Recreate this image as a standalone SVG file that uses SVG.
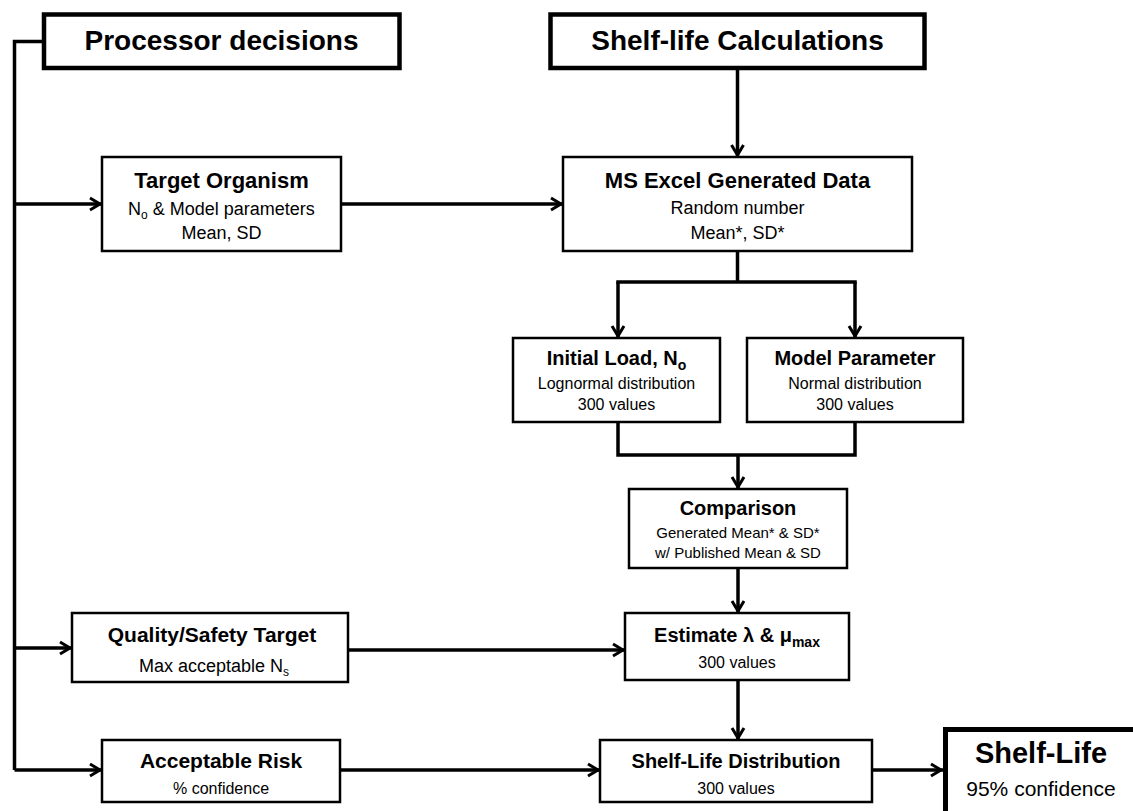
<svg xmlns="http://www.w3.org/2000/svg" width="1133" height="811" viewBox="0 0 1133 811">
<defs>
<style>
text{font-family:"Liberation Sans",Arial,sans-serif;fill:#000;text-anchor:middle}
.h{font-size:28px;font-weight:bold}
.t{font-size:22px;font-weight:bold}
.tm{font-size:20px;font-weight:bold}
.s{font-size:18px}
.sm{font-size:16px}
.box{fill:#fff;stroke:#000;stroke-width:2.5}
.hbox{fill:#fff;stroke:#000;stroke-width:4.5}
.c{fill:none;stroke:#000;stroke-width:3.5}
.a{fill:none;stroke:#000;stroke-width:3.5;marker-end:url(#arr)}
</style>
<marker id="arr" viewBox="0 0 16 16" markerWidth="16" markerHeight="16" refX="14" refY="8" orient="auto" markerUnits="userSpaceOnUse" overflow="visible">
<path d="M2,2 L12,8 L2,14" fill="none" stroke="#000" stroke-width="3"/>
</marker>
</defs>

<g id="connectors">
<polyline class="c" points="43,41.5 14.5,41.5 14.5,770"/>
<line class="a" x1="14.5" y1="204" x2="102" y2="204"/>
<line class="a" x1="14.5" y1="648" x2="72" y2="648"/>
<line class="a" x1="14.5" y1="770" x2="102" y2="770"/>
<line class="a" x1="737.5" y1="68" x2="737.5" y2="157"/>
<line class="a" x1="341" y1="204" x2="563" y2="204"/>
<line class="c" x1="737.5" y1="251" x2="737.5" y2="282"/>
<line class="c" x1="616.25" y1="282" x2="856.75" y2="282"/>
<line class="a" x1="618" y1="282" x2="618" y2="338"/>
<line class="a" x1="855" y1="282" x2="855" y2="338"/>
<polyline class="c" points="618,422 618,455 855,455 855,422"/>
<line class="a" x1="738" y1="455" x2="738" y2="489"/>
<line class="a" x1="738" y1="568" x2="738" y2="613"/>
<line class="a" x1="348" y1="650" x2="625" y2="650"/>
<line class="a" x1="738" y1="680" x2="738" y2="740"/>
<line class="a" x1="340" y1="770" x2="600" y2="770"/>
<line class="a" x1="872" y1="770" x2="943" y2="770"/>
</g>

<g id="processor-decisions">
<rect class="hbox" x="44" y="14.5" width="355.5" height="53.5"/>
<text class="h" x="221.5" y="50">Processor decisions</text>
</g>

<g id="shelf-life-calculations">
<rect class="hbox" x="550.5" y="14.5" width="374" height="53.5"/>
<text class="h" x="737.5" y="50">Shelf-life Calculations</text>
</g>

<g id="target-organism">
<rect class="box" x="102" y="157" width="239" height="94"/>
<text class="t" x="221.5" y="188">Target Organism</text>
<text class="s" x="221.5" y="215">N<tspan font-size="12" dy="4">o</tspan><tspan dy="-4"> &amp; Model parameters</tspan></text>
<text class="s" x="221.5" y="239">Mean, SD</text>
</g>

<g id="ms-excel">
<rect class="box" x="563" y="157" width="349" height="94"/>
<text class="t" x="737.5" y="188">MS Excel Generated Data</text>
<text class="s" x="737.5" y="214">Random number</text>
<text class="s" x="737.5" y="239">Mean*, SD*</text>
</g>

<g id="initial-load">
<rect class="box" x="513" y="338" width="207" height="84"/>
<text class="tm" x="616.5" y="365">Initial Load, N<tspan font-size="14" dy="5">o</tspan></text>
<text class="sm" x="616.5" y="389">Lognormal distribution</text>
<text class="sm" x="616.5" y="410">300 values</text>
</g>

<g id="model-parameter">
<rect class="box" x="747" y="338" width="216" height="84"/>
<text class="tm" x="855" y="365">Model Parameter</text>
<text class="sm" x="855" y="389">Normal distribution</text>
<text class="sm" x="855" y="410">300 values</text>
</g>

<g id="comparison">
<rect class="box" x="629" y="489" width="218" height="79"/>
<text class="tm" x="738" y="515">Comparison</text>
<text class="sm" x="738" y="538" style="font-size:15px">Generated Mean* &amp; SD*</text>
<text class="sm" x="738" y="558" style="font-size:15px">w/ Published Mean &amp; SD</text>
</g>

<g id="quality-safety-target">
<rect class="box" x="72" y="613" width="276" height="69"/>
<text class="t" x="212" y="642" style="font-size:21px">Quality/Safety Target</text>
<text class="s" x="214" y="672">Max acceptable N<tspan font-size="12" dy="4">s</tspan></text>
</g>

<g id="estimate">
<rect class="box" x="625" y="613" width="224" height="67"/>
<text class="tm" x="737" y="642">Estimate λ &amp; μ<tspan font-size="14" dy="5">max</tspan></text>
<text class="sm" x="737" y="668">300 values</text>
</g>

<g id="acceptable-risk">
<rect class="box" x="102" y="740" width="238" height="62"/>
<text class="t" x="221" y="768" style="font-size:21px">Acceptable Risk</text>
<text class="sm" x="221" y="794">% confidence</text>
</g>

<g id="shelf-life-distribution">
<rect class="box" x="600" y="740" width="272" height="62"/>
<text class="tm" x="736" y="768">Shelf-Life Distribution</text>
<text class="sm" x="736" y="794">300 values</text>
</g>

<g id="shelf-life">
<rect class="hbox" x="945.5" y="729.5" width="200" height="100" style="stroke-width:5"/>
<text x="1041" y="763" style="font-size:29px;font-weight:bold">Shelf-Life</text>
<text x="1041" y="796" style="font-size:21px">95% confidence</text>
</g>
</svg>
